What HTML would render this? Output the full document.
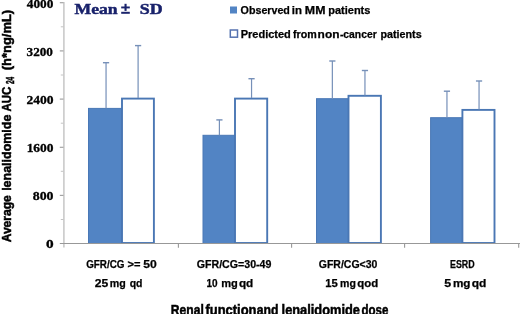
<!DOCTYPE html>
<html><head><meta charset="utf-8">
<style>
html,body{margin:0;padding:0;background:#fff;width:520px;height:314px;overflow:hidden}
svg{display:block;will-change:transform}
.s{font-family:"Liberation Sans",sans-serif;font-weight:bold;fill:#000}
.r{font-family:"Liberation Serif",serif;font-weight:bold;fill:#000}
.n{font-family:"Liberation Serif",serif;font-weight:bold;fill:#19226b;stroke:#19226b;stroke-width:0.45}
.k{stroke:#000;stroke-width:0.3}
.k2{stroke:#000;stroke-width:0.25}
.ks{stroke:#000;stroke-width:0.25}
.kx{stroke:#000;stroke-width:0.5}
</style></head>
<body>
<svg width="520" height="314" viewBox="0 0 520 314">

<g transform="translate(11,243) rotate(-90)">
<text class="s kx" x="0.64" y="0.00" font-size="13" textLength="47.13" lengthAdjust="spacingAndGlyphs">Average</text>
<text class="s kx" x="52.15" y="0.00" font-size="13" textLength="76.25" lengthAdjust="spacingAndGlyphs">lenalidomide</text>
<text class="s kx" x="131.42" y="0.00" font-size="13" textLength="24.79" lengthAdjust="spacingAndGlyphs">AUC</text>
<text class="s kx" x="158.89" y="2.70" font-size="10.2" textLength="7.26" lengthAdjust="spacingAndGlyphs">24</text>
<text class="s kx" x="172.79" y="0.00" font-size="13" textLength="60.39" lengthAdjust="spacingAndGlyphs">(h*ng/mL)</text>
</g>
<!-- y axis -->
<g stroke="#c6c6c6" stroke-width="1.5">
<line x1="63.9" y1="2" x2="63.9" y2="247.5"/>
</g>
<g stroke="#a3a3a3" stroke-width="1.2">
<line x1="59.8" y1="2.7" x2="63.5" y2="2.7"/>
<line x1="59.8" y1="50.9" x2="63.5" y2="50.9"/>
<line x1="59.8" y1="99.1" x2="63.5" y2="99.1"/>
<line x1="59.8" y1="147.3" x2="63.5" y2="147.3"/>
<line x1="59.8" y1="195.4" x2="63.5" y2="195.4"/>
</g>
<g stroke="#c4c4c4" stroke-width="1">
<line x1="60.8" y1="26.8" x2="63.5" y2="26.8"/>
<line x1="60.8" y1="75" x2="63.5" y2="75"/>
<line x1="60.8" y1="123.2" x2="63.5" y2="123.2"/>
<line x1="60.8" y1="171.3" x2="63.5" y2="171.3"/>
<line x1="60.8" y1="219.5" x2="63.5" y2="219.5"/>
</g>
<!-- bars -->
<g fill="#5284c4" stroke="#4a78b6" stroke-width="1">
<rect x="88.5" y="108.4" width="33" height="135.1"/>
<rect x="203" y="135.3" width="32.5" height="108.2"/>
<rect x="316.5" y="98.7" width="32" height="144.8"/>
<rect x="430.6" y="117.7" width="32" height="125.8"/>
</g>
<g fill="#fff" stroke="#4a77b4" stroke-width="1.9">
<rect x="122" y="98.6" width="31.9" height="144.4"/>
<rect x="235" y="98.6" width="32.2" height="144.4"/>
<rect x="348.5" y="95.8" width="32.4" height="147.2"/>
<rect x="462.4" y="109.9" width="32.1" height="133.1"/>
</g>
<!-- x axis -->
<g stroke="#989898" stroke-width="1.1">
<line x1="59.8" y1="243.5" x2="520" y2="243.5"/>
<line x1="178.4" y1="243.5" x2="178.4" y2="247.8"/>
<line x1="291.6" y1="243.5" x2="291.6" y2="247.8"/>
<line x1="404.6" y1="243.5" x2="404.6" y2="247.8"/>
<line x1="518.7" y1="243.5" x2="518.7" y2="247.8"/>
</g>
<!-- error bars -->
<g fill="#7690b8">
<rect x="105.45" y="62.70" width="1.2" height="45.70"/>
<rect x="102.95" y="62.00" width="6.2" height="1.4"/>
<rect x="137.50" y="45.60" width="1.2" height="52.40"/>
<rect x="135.00" y="44.90" width="6.2" height="1.4"/>
<rect x="218.80" y="119.90" width="1.2" height="15.40"/>
<rect x="216.30" y="119.20" width="6.2" height="1.4"/>
<rect x="250.95" y="78.70" width="1.2" height="19.30"/>
<rect x="248.45" y="78.00" width="6.2" height="1.4"/>
<rect x="331.75" y="61.00" width="1.2" height="37.70"/>
<rect x="329.25" y="60.30" width="6.2" height="1.4"/>
<rect x="364.35" y="70.50" width="1.2" height="25.00"/>
<rect x="361.85" y="69.80" width="6.2" height="1.4"/>
<rect x="446.35" y="91.20" width="1.2" height="26.50"/>
<rect x="443.85" y="90.50" width="6.2" height="1.4"/>
<rect x="478.45" y="81.00" width="1.2" height="28.50"/>
<rect x="475.95" y="80.30" width="6.2" height="1.4"/>
</g>
<!-- legend -->
<rect x="230" y="6.5" width="7" height="7" fill="#5284c4"/>
<rect x="230.3" y="30" width="7.2" height="7.2" fill="#fff" stroke="#5572b0" stroke-width="1.5"/>
<!-- plus-minus -->
<g fill="#1b246c">
<rect x="124.5" y="3.8" width="2.1" height="7.1"/>
<rect x="121.2" y="6.5" width="8.6" height="1.9"/>
<rect x="121.2" y="11.8" width="8.6" height="2"/>
</g>

<text class="n" x="74.53" y="13.70" font-size="15" textLength="43.18" lengthAdjust="spacingAndGlyphs">Mean</text>
<text class="n" x="139.78" y="13.70" font-size="15" textLength="22.94" lengthAdjust="spacingAndGlyphs">SD</text>
<text class="r k" x="53.42" y="7.60" font-size="12.2" textLength="26.62" lengthAdjust="spacingAndGlyphs" text-anchor="end">4000</text>
<text class="r k" x="52.94" y="55.60" font-size="12.2" textLength="26.31" lengthAdjust="spacingAndGlyphs" text-anchor="end">3200</text>
<text class="r k" x="53.53" y="103.50" font-size="12.2" textLength="27.11" lengthAdjust="spacingAndGlyphs" text-anchor="end">2400</text>
<text class="r k" x="53.57" y="151.50" font-size="12.2" textLength="26.92" lengthAdjust="spacingAndGlyphs" text-anchor="end">1600</text>
<text class="r k" x="53.51" y="199.70" font-size="12.2" textLength="20.79" lengthAdjust="spacingAndGlyphs" text-anchor="end">800</text>
<text class="r k" x="53.64" y="247.80" font-size="12.2" textLength="7.65" lengthAdjust="spacingAndGlyphs" text-anchor="end">0</text>
<text class="s k2" x="240.61" y="13.80" font-size="10" textLength="49.27" lengthAdjust="spacingAndGlyphs">Observed</text>
<text class="s k2" x="291.86" y="13.80" font-size="10" textLength="10.15" lengthAdjust="spacingAndGlyphs">in</text>
<text class="s k2" x="304.88" y="13.80" font-size="10" textLength="20.60" lengthAdjust="spacingAndGlyphs">MM</text>
<text class="s k2" x="328.28" y="13.80" font-size="10" textLength="42.12" lengthAdjust="spacingAndGlyphs">patients</text>
<text class="s k2" x="240.70" y="38.00" font-size="10" textLength="50.17" lengthAdjust="spacingAndGlyphs">Predicted</text>
<text class="s k2" x="292.93" y="38.00" font-size="10" textLength="23.79" lengthAdjust="spacingAndGlyphs">from</text>
<text class="s k2" x="317.64" y="38.00" font-size="10" textLength="21.84" lengthAdjust="spacingAndGlyphs">non</text>
<text class="s k2" x="339.93" y="38.00" font-size="10" textLength="36.77" lengthAdjust="spacingAndGlyphs">-cancer</text>
<text class="s k2" x="380.51" y="38.00" font-size="10" textLength="41.12" lengthAdjust="spacingAndGlyphs">patients</text>
<text class="s ks" x="86.17" y="268.20" font-size="10.8" textLength="38.27" lengthAdjust="spacingAndGlyphs">GFR/CG</text>
<text class="s ks" x="127.59" y="268.20" font-size="10.8" textLength="13.00" lengthAdjust="spacingAndGlyphs">&gt;=</text>
<text class="s ks" x="143.21" y="268.20" font-size="10.8" textLength="13.50" lengthAdjust="spacingAndGlyphs">50</text>
<text class="s ks" x="94.70" y="287.30" font-size="10.8" textLength="13.51" lengthAdjust="spacingAndGlyphs">25</text>
<text class="s ks" x="109.70" y="287.30" font-size="10.8" textLength="15.98" lengthAdjust="spacingAndGlyphs">mg</text>
<text class="s ks" x="129.70" y="287.30" font-size="10.8" textLength="12.80" lengthAdjust="spacingAndGlyphs">qd</text>
<text class="s ks" x="196.70" y="268.20" font-size="10.8" textLength="74.73" lengthAdjust="spacingAndGlyphs">GFR/CG=30-49</text>
<text class="s ks" x="206.41" y="287.30" font-size="10.8" textLength="11.12" lengthAdjust="spacingAndGlyphs">10</text>
<text class="s ks" x="221.15" y="287.30" font-size="10.8" textLength="16.62" lengthAdjust="spacingAndGlyphs">mg</text>
<text class="s ks" x="238.93" y="287.30" font-size="10.8" textLength="14.37" lengthAdjust="spacingAndGlyphs">qd</text>
<text class="s ks" x="318.77" y="268.20" font-size="10.8" textLength="58.61" lengthAdjust="spacingAndGlyphs">GFR/CG&lt;30</text>
<text class="s ks" x="325.18" y="287.30" font-size="10.8" textLength="12.53" lengthAdjust="spacingAndGlyphs">15</text>
<text class="s ks" x="340.12" y="287.30" font-size="10.8" textLength="15.81" lengthAdjust="spacingAndGlyphs">mg</text>
<text class="s ks" x="357.38" y="287.30" font-size="10.8" textLength="20.93" lengthAdjust="spacingAndGlyphs">qod</text>
<text class="s ks" x="449.97" y="268.20" font-size="10.8" textLength="24.64" lengthAdjust="spacingAndGlyphs">ESRD</text>
<text class="s ks" x="444.23" y="287.30" font-size="10.8" textLength="6.92" lengthAdjust="spacingAndGlyphs">5</text>
<text class="s ks" x="452.90" y="287.30" font-size="10.8" textLength="17.60" lengthAdjust="spacingAndGlyphs">mg</text>
<text class="s ks" x="471.70" y="287.30" font-size="10.8" textLength="14.64" lengthAdjust="spacingAndGlyphs">qd</text>
<text class="s kx" x="170.77" y="314.70" font-size="14.4" textLength="33.02" lengthAdjust="spacingAndGlyphs">Renal</text>
<text class="s kx" x="205.49" y="314.70" font-size="14.4" textLength="50.98" lengthAdjust="spacingAndGlyphs">function</text>
<text class="s kx" x="256.74" y="314.70" font-size="14.4" textLength="21.75" lengthAdjust="spacingAndGlyphs">and</text>
<text class="s kx" x="281.57" y="314.70" font-size="14.4" textLength="78.40" lengthAdjust="spacingAndGlyphs">lenalidomide</text>
<text class="s kx" x="361.48" y="314.70" font-size="14.4" textLength="26.91" lengthAdjust="spacingAndGlyphs">dose</text>
</svg>
</body></html>
